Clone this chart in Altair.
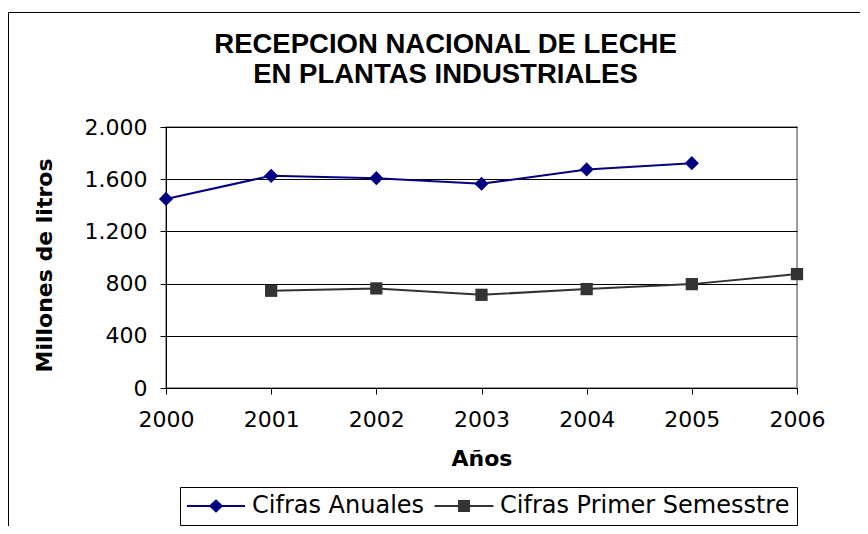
import altair as alt
import pandas as pd

years = [2000, 2001, 2002, 2003, 2004, 2005, 2006]
anuales = [1449, 1626, 1608, 1565, 1675, 1723, None]
semestre = [None, 745, 763, 714, 758, 796, 873]
series = ["Cifras Anuales", "Cifras Primer Semesstre"]
colors = ["#000080", "#333333"]
y_ticks = [0, 400, 800, 1200, 1600, 2000]
title_lines = ["RECEPCION NACIONAL DE LECHE", "EN PLANTAS INDUSTRIALES"]

rows = []
for yr, a, s in zip(years, anuales, semestre):
    if a is not None:
        rows.append({"year": yr, "value": a, "serie": series[0]})
    if s is not None:
        rows.append({"year": yr, "value": s, "serie": series[1]})
df = pd.DataFrame(rows)

W, H = 631, 261
PL, PT = 158, 119
PR = 852 - PL - W
PB = 518 - PT - H

x_enc = alt.X("year:Q",
              scale=alt.Scale(domain=[2000, 2006], nice=False, zero=False),
              axis=alt.Axis(values=years, format="d", title="Años", grid=False,
                            labelAngle=0, tickSize=6, labelPadding=15, labelFlush=False,
                            titleX=W / 2, titleY=77, titleBaseline="alphabetic"))
y_enc = alt.Y("value:Q",
              scale=alt.Scale(domain=[0, 2000], nice=False),
              axis=alt.Axis(values=y_ticks, title="Millones de litros",
                            labelExpr="replace(format(datum.value, ','), ',', '.')",
                            tickSize=6, labelPadding=13, grid=True,
                            titleX=-122, titleY=138, titleBaseline="middle"))

base = alt.Chart(df)

frame = alt.Chart(alt.Data(values=[{"a": 1}])).mark_rect(
    fill="transparent", stroke="black", strokeWidth=1
).encode(x=alt.value(-157.5), x2=alt.value(W + PR + 20),
         y=alt.value(-114.5), y2=alt.value(H + PB + 20))

sym1 = "M-2.42,-0.09H2.42V0.09H-2.42Z M0,-0.56L0.6,0L0,0.56L-0.6,0Z"
sym2 = "M-2.45,-0.09H2.45V0.09H-2.45Z M-0.5,-0.5H0.5V0.5H-0.5Z"

leg = alt.Legend(title=None, orient="none", legendX=14, legendY=360,
                 direction="horizontal", padding=7,
                 strokeColor="black", fillColor="white",
                 labelFont="DejaVu Sans", labelFontSize=24,
                 labelColor="black", symbolSize=576,
                 symbolOffset=17, labelOffset=24,
                 columnPadding=9, symbolStrokeWidth=0,
                 symbolOpacity=1, labelLimit=400)

legend_layer = base.mark_point(filled=True, opacity=0, size=1).encode(
    x=x_enc, y=y_enc,
    color=alt.Color("serie:N", scale=alt.Scale(domain=series, range=colors), legend=leg),
    shape=alt.Shape("serie:N", scale=alt.Scale(domain=series, range=[sym1, sym2]), legend=leg),
)

lines = base.mark_line(strokeWidth=2).encode(
    x=x_enc, y=y_enc,
    color=alt.Color("serie:N", scale=alt.Scale(domain=series, range=colors), legend=None),
)

diamonds = base.transform_filter(alt.datum.serie == series[0]).mark_point(
    filled=True, opacity=1, shape="diamond", size=200, color=colors[0]
).encode(x=x_enc, y=y_enc)

squares = base.transform_filter(alt.datum.serie == series[1]).mark_point(
    filled=True, opacity=1, shape="square", size=150, color=colors[1]
).encode(x=x_enc, y=y_enc)

chart = alt.layer(frame, legend_layer, lines, diamonds, squares).properties(
    width=W, height=H,
    autosize=alt.AutoSizeParams(type="none"),
    padding={"left": PL, "top": PT, "right": PR, "bottom": PB},
    title=alt.Title(text=title_lines, font="Liberation Sans", fontSize=27.5,
                    fontWeight="bold", color="black", anchor="middle",
                    frame="group", dx=-36, lineHeight=30, offset=-76),
    background="white",
).configure_view(
    stroke="#808080", strokeWidth=1.5
).configure_axis(
    labelFont="DejaVu Sans", labelFontSize=22, labelColor="black",
    titleFont="DejaVu Sans", titleFontSize=22, titleFontWeight="bold", titleColor="black",
    domainColor="black", domainWidth=1, tickColor="black", tickWidth=1,
    gridColor="black", gridWidth=1, gridOpacity=1,
)

chart.save("out.html", embed_options={"renderer": "svg", "actions": False})
